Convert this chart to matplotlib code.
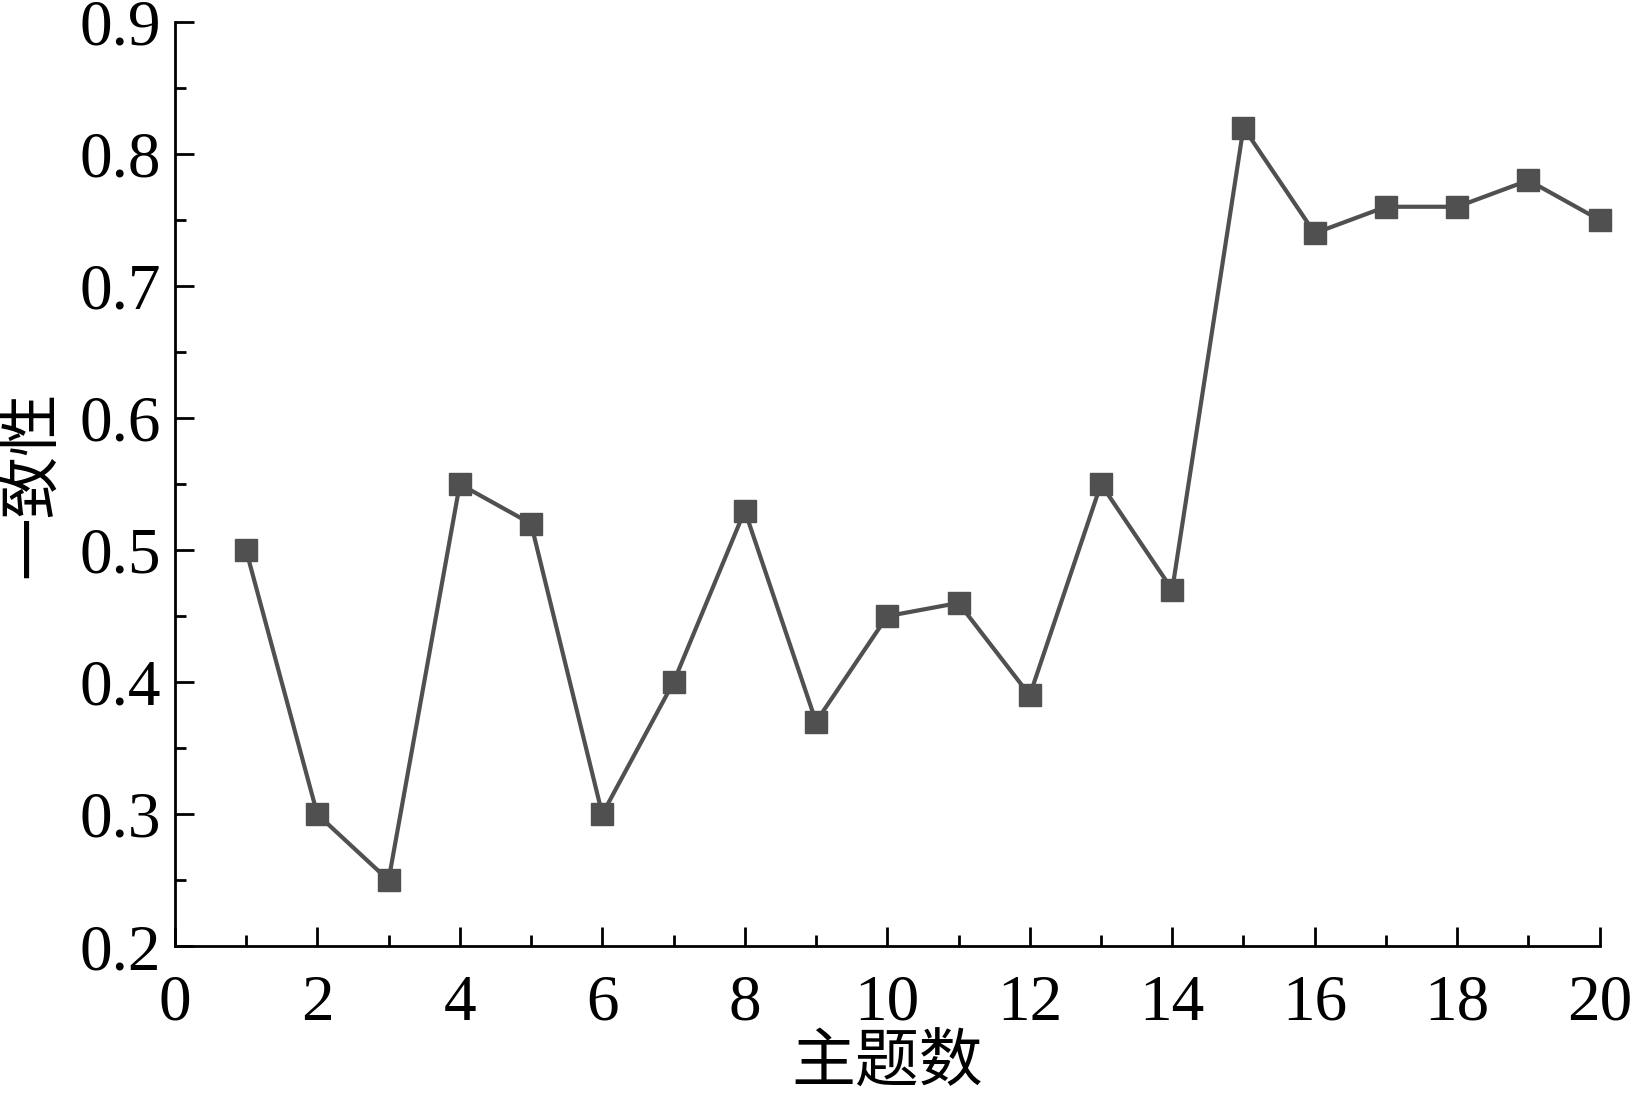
import numpy as np
import matplotlib.pyplot as plt
from matplotlib.ticker import MultipleLocator

topics = np.arange(1, 21)
coherence = [0.50, 0.30, 0.25, 0.55, 0.52, 0.30, 0.40, 0.53, 0.37, 0.45,
             0.46, 0.39, 0.55, 0.47, 0.82, 0.74, 0.76, 0.76, 0.78, 0.75]

plt.rcParams['font.family'] = ['Liberation Serif', 'Noto Sans CJK SC']

fig = plt.figure(figsize=(16.34, 10.94), dpi=100)
ax = fig.add_axes([0.107, 0.135, 0.872, 0.845])

ax.plot(topics, coherence, color='#505050', lw=3, marker='s', ms=15.5,
        markerfacecolor='#505050', markeredgecolor='#505050', clip_on=False)

ax.set_xlim(0, 20)
ax.set_ylim(0.2, 0.9)
ax.xaxis.set_major_locator(MultipleLocator(2))
ax.xaxis.set_minor_locator(MultipleLocator(1))
ax.yaxis.set_major_locator(MultipleLocator(0.1))
ax.yaxis.set_minor_locator(MultipleLocator(0.05))
ax.yaxis.set_major_formatter(plt.FuncFormatter(lambda v, p: f'{v:.1f}'))

for s in ['top', 'right']:
    ax.spines[s].set_visible(False)
for s in ['left', 'bottom']:
    ax.spines[s].set_linewidth(2)

ax.tick_params(which='both', direction='in', width=2, labelsize=47)
ax.tick_params(axis='x', pad=20)
ax.tick_params(axis='y', pad=10)
ax.tick_params(which='major', length=14)
ax.tick_params(which='minor', length=8)

ax.set_xlabel('主题数', fontsize=46, family='Noto Sans CJK SC', va='center')
ax.xaxis.set_label_coords(0.5, -0.127)
ax.set_ylabel('一致性', fontsize=45, family='Noto Sans CJK SC', labelpad=12)

fig.savefig('out.png', dpi=100)
